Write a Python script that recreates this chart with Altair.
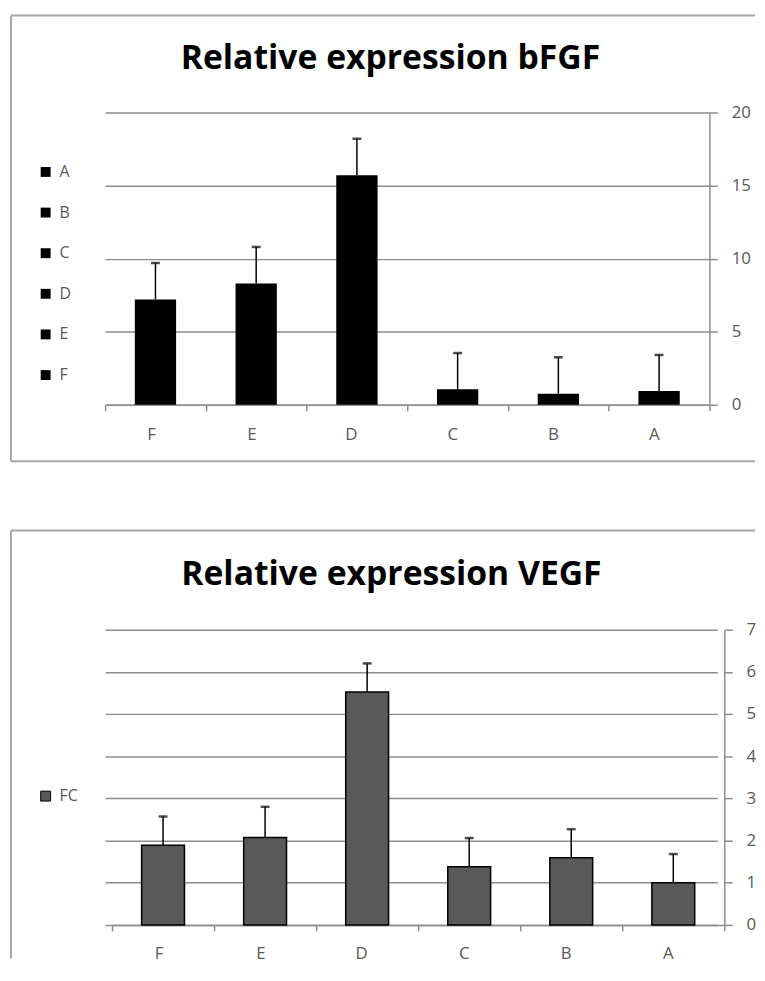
import altair as alt
import pandas as pd

# ---------------- data ----------------
categories = ["F", "E", "D", "C", "B", "A"]
legend_order = ["A", "B", "C", "D", "E", "F"]

bfgf_values = [7.2, 8.3, 15.7, 1.06, 0.76, 0.95]
bfgf_errors = [2.5, 2.5, 2.5, 2.48, 2.49, 2.46]

vegf_values = [1.89, 2.07, 5.52, 1.38, 1.59, 1.0]
vegf_errors = [0.68, 0.73, 0.68, 0.68, 0.68, 0.68]

bfgf_ticks = [0, 5, 10, 15, 20]
vegf_ticks = [0, 1, 2, 3, 4, 5, 6, 7]

titles = ["Relative expression bFGF", "Relative expression VEGF"]
vegf_series = "FC"

# ---------------- styles ----------------
GRID = "#8c8c8c"
BORDER = "#a6a6a6"
LABEL = "#595959"
FONT = "Open Sans"


def make_df(values, errors):
    return pd.DataFrame({
        "cat": categories,
        "value": values,
        "upper": [v + e for v, e in zip(values, errors)],
        "series": vegf_series,
    })


def border(left, top, right, bottom=None, left_end=None):
    one = pd.DataFrame({"k": [0]})
    layers = [
        alt.Chart(one).mark_rule(color=BORDER, strokeWidth=2).encode(
            x=alt.value(left), x2=alt.value(right), y=alt.value(top)),
    ]
    if bottom is not None:
        layers.append(alt.Chart(one).mark_rule(color=BORDER, strokeWidth=2).encode(
            x=alt.value(left), x2=alt.value(right), y=alt.value(bottom)))
        left_end = bottom
    layers.append(alt.Chart(one).mark_rule(color=BORDER, strokeWidth=2).encode(
        x=alt.value(left), y=alt.value(top), y2=alt.value(left_end)))
    return layers


def panel(df, ticks, ymax, title, pw, ph, xrange, title_xy, color, bar_mark,
          frame, xlab_pad):
    x = alt.X("cat:N", sort=categories,
              scale=alt.Scale(domain=categories, range=xrange,
                              paddingInner=0, paddingOuter=0),
              axis=alt.Axis(orient="bottom", tickBand="extent",
                            tickSize=6, tickColor=GRID, tickWidth=1.5,
                            domainColor=GRID, domainWidth=1.5, grid=False,
                            labelAngle=0, labelFont=FONT, labelFontSize=17,
                            labelColor=LABEL, labelPadding=xlab_pad, title=None))
    y = alt.Y("value:Q",
              scale=alt.Scale(domain=[0, ymax], nice=False),
              axis=alt.Axis(orient="right", values=ticks, format="d",
                            grid=True, gridColor=GRID, gridWidth=1.5,
                            domainColor=GRID, domainWidth=1.5,
                            tickColor=GRID, tickWidth=1.5, tickSize=8,
                            labelFont=FONT, labelFontSize=17, labelColor=LABEL,
                            labelPadding=14, title=None))
    bars = alt.Chart(df).mark_bar(**bar_mark).encode(x=x, y=y, color=color)
    rules = alt.Chart(df).mark_rule(color="black", strokeWidth=1.5).encode(
        x="cat:N", y="value:Q", y2="upper:Q")
    caps = alt.Chart(df).mark_tick(color="black", thickness=2.5, size=9).encode(
        x="cat:N", y="upper:Q")
    ttl = alt.Chart(pd.DataFrame({"t": [title]})).mark_text(
        font=FONT, fontSize=34, fontWeight="bold", color="black",
        align="center", baseline="alphabetic").encode(
        x=alt.value(title_xy[0]), y=alt.value(title_xy[1]), text="t:N")
    return alt.layer(rules, caps, bars, ttl, *border(**frame)).properties(
        width=pw, height=ph)


# ---------------- top panel ----------------
top_color = alt.Color(
    "cat:N",
    scale=alt.Scale(domain=legend_order, range=["#000000"] * 6),
    legend=alt.Legend(orient="none", legendX=-68, legendY=52, title=None,
                      symbolType="square", symbolSize=100, symbolStrokeWidth=0,
                      labelFont=FONT, labelFontSize=16, labelColor=LABEL,
                      labelOffset=6, rowPadding=25, padding=0))
top = panel(make_df(bfgf_values, bfgf_errors), bfgf_ticks, 20, titles[0],
            610, 295, [0, 610], (288, -44), top_color,
            dict(width=alt.RelativeBandSize(0.41), color="black"),
            dict(left=-95, top=-98, right=656, bottom=352), 24)

# ---------------- bottom panel ----------------
bot_color = alt.Color(
    "series:N",
    scale=alt.Scale(domain=[vegf_series], range=["#595959"]),
    legend=alt.Legend(orient="none", legendX=-68, legendY=160, title=None,
                      symbolType="square", symbolSize=100,
                      symbolStrokeColor="black", symbolStrokeWidth=1,
                      labelFont=FONT, labelFontSize=16, labelColor=LABEL,
                      labelOffset=6, padding=0))
bottom = panel(make_df(vegf_values, vegf_errors), vegf_ticks, 7, titles[1],
               625, 298, [7, 625], (289, -45), bot_color,
               dict(width=alt.RelativeBandSize(0.42), stroke="black", strokeWidth=1.5),
               dict(left=-95, top=-100, right=656, left_end=332), 23)

chart = alt.vconcat(top, bottom, spacing=66).resolve_scale(
    x="independent", y="independent", color="independent"
).resolve_legend(color="independent").properties(
    padding={"left": 1, "top": 1, "right": 0, "bottom": 0}
).configure_view(stroke="transparent")

chart.save("out.html", embed_options={"renderer": "svg", "actions": False})
